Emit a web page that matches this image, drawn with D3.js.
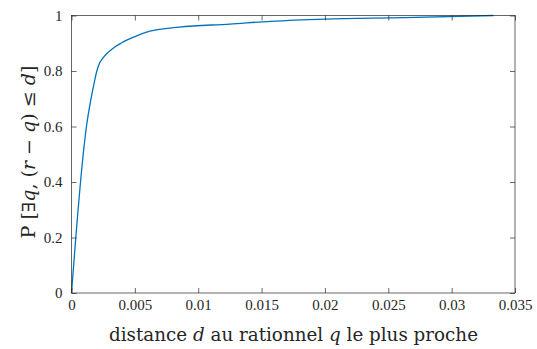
<!DOCTYPE html>
<html><head><meta charset="utf-8">
<script src="https://cdn.jsdelivr.net/npm/d3@7"></script>
<style>
body{margin:0;background:#fff;}
</style></head>
<body><svg id="c" width="537" height="349"></svg>
<script>
const dValues = [0, 0.00034, 0.00092, 0.00118, 0.00155, 0.00181, 0.002, 0.00221, 0.00247, 0.00281, 0.00313, 0.0035, 0.0039, 0.0044, 0.0049, 0.0058, 0.0085, 0.0125, 0.0157, 0.02, 0.0263, 0.0333];
const pValues = [0, 0.2, 0.498, 0.6, 0.702, 0.762, 0.8, 0.828, 0.846, 0.864, 0.876, 0.889, 0.9, 0.912, 0.922, 0.938, 0.958, 0.969, 0.979, 0.987, 0.992, 1.0];
const xTicks = [0, 0.005, 0.01, 0.015, 0.02, 0.025, 0.03, 0.035];
const xTickLabels = ["0", "0.005", "0.01", "0.015", "0.02", "0.025", "0.03", "0.035"];
const yTicks = [0, 0.2, 0.4, 0.6, 0.8, 1];
const yTickLabels = ["0", "0.2", "0.4", "0.6", "0.8", "1"];

const FONT = "'Liberation Serif', 'Times New Roman', serif";
const LFONT = "'DejaVu Serif', serif";
const L = 71.5, R = 515, T = 15.5, B = 293;
const svg = d3.select("#c");
const x = d3.scaleLinear().domain([0, 0.035]).range([L, R]);
const y = d3.scaleLinear().domain([0, 1]).range([B, T]);
const axisColor = "#262626";
const tl = 5;

// curve
const pts = dValues.map((d, i) => [d, pValues[i]]);
svg.append("path").datum(pts)
  .attr("d", d3.line().x(d => x(d[0])).y(d => y(d[1])).curve(d3.curveMonotoneX))
  .attr("fill", "none").attr("stroke", "#0072BD").attr("stroke-width", 1.3);

// box
svg.append("rect").attr("x", L).attr("y", T).attr("width", R - L).attr("height", B - T)
  .attr("fill", "none").attr("stroke", axisColor).attr("stroke-width", 0.7);

const fs = 15;
const xb = svg.append("g").attr("transform", `translate(0,${B})`)
  .call(d3.axisBottom(x).tickValues(xTicks).tickFormat((d, i) => xTickLabels[i]).tickSizeInner(-tl).tickSizeOuter(0).tickPadding(6));
const xt = svg.append("g").attr("transform", `translate(0,${T})`)
  .call(d3.axisTop(x).tickValues(xTicks).tickFormat("").tickSizeInner(-tl).tickSizeOuter(0));
const yl = svg.append("g").attr("transform", `translate(${L},0)`)
  .call(d3.axisLeft(y).tickValues(yTicks).tickFormat((d, i) => yTickLabels[i]).tickSizeInner(-tl).tickSizeOuter(0).tickPadding(9));
const yr = svg.append("g").attr("transform", `translate(${R},0)`)
  .call(d3.axisRight(y).tickValues(yTicks).tickFormat("").tickSizeInner(-tl).tickSizeOuter(0));
[xb, xt, yl, yr].forEach(g => {
  g.attr("font-family", FONT).attr("font-size", fs);
  g.select(".domain").remove();
  g.selectAll("line").attr("stroke", axisColor).attr("stroke-width", 0.7);
  g.selectAll("text").attr("fill", axisColor).style("font-family", FONT).style("font-size", fs + "px");
});

// x label
const xlab = svg.append("text").attr("x", 293.5).attr("y", 341)
  .attr("text-anchor", "middle").attr("fill", axisColor)
  .attr("textLength", 369).attr("lengthAdjust", "spacingAndGlyphs")
  .style("font-family", LFONT).style("font-size", "18px");
xlab.append("tspan").text("distance ");
xlab.append("tspan").attr("font-style", "italic").text("d");
xlab.append("tspan").text(" au rationnel ");
xlab.append("tspan").attr("font-style", "italic").text("q");
xlab.append("tspan").text(" le plus proche");

// y label
const ylab = svg.append("text").attr("transform", `translate(35,152) rotate(-90)`)
  .attr("text-anchor", "middle").attr("fill", axisColor)
  .attr("textLength", 173).attr("lengthAdjust", "spacingAndGlyphs")
  .style("font-family", LFONT).style("font-size", "18px");
ylab.append("tspan").text("P [∃");
ylab.append("tspan").attr("font-style", "italic").text("q");
ylab.append("tspan").text(", (");
ylab.append("tspan").attr("font-style", "italic").text("r");
ylab.append("tspan").text(" − ");
ylab.append("tspan").attr("font-style", "italic").text("q");
ylab.append("tspan").text(") ≤ ");
ylab.append("tspan").attr("font-style", "italic").text("d");
ylab.append("tspan").text("]");
</script></body></html>
